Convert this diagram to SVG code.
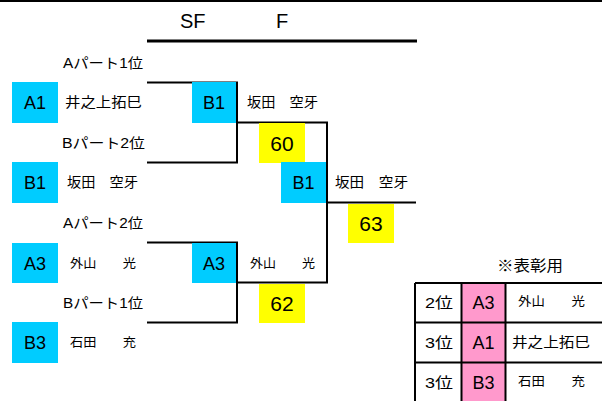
<svg xmlns="http://www.w3.org/2000/svg" width="602" height="401" viewBox="0 0 602 401">
<style>
text{font-family:"Liberation Sans","Noto Sans CJK JP",sans-serif;fill:#000}
.seed{fill:#00ccff}
.score{fill:#ffff00}
.pink{fill:#ff99cc}
.ln{fill:none;stroke:#000;stroke-width:2}
.big{font-size:18px;text-anchor:middle}
.sc{font-size:21px;text-anchor:middle}
.part{font-size:14px}
.nm{font-size:14px}
.nms{font-size:12.5px}
.hd{font-size:20px}
</style>
<rect x="0" y="0" width="602" height="401" fill="#fff"/>
<g id="header">
<rect x="0" y="0" width="602" height="2" fill="#000"/>
<text class="hd" x="180" y="28">SF</text>
<text class="hd" x="276" y="28">F</text>
<rect x="147" y="39.5" width="270" height="3" fill="#000"/>
</g>
<g id="connectors">
<path class="ln" d="M147 82.5H237V162.5H147"/>
<path class="ln" d="M147 242.5H237V322.5H147"/>
<path class="ln" d="M237 122.5H327V282.5H237"/>
<path class="ln" d="M327 202.5H416"/>
</g>
<g id="label-a1st"><text class="part" x="63" y="68" textLength="80" lengthAdjust="spacingAndGlyphs">Aパート1位</text></g>
<g id="label-b2nd"><text class="part" x="62" y="148" textLength="83" lengthAdjust="spacingAndGlyphs">Bパート2位</text></g>
<g id="label-a2nd"><text class="part" x="63" y="228" textLength="80" lengthAdjust="spacingAndGlyphs">Aパート2位</text></g>
<g id="label-b1st"><text class="part" x="63" y="308" textLength="80" lengthAdjust="spacingAndGlyphs">Bパート1位</text></g>
<g id="seed-A1">
<rect class="seed" x="12" y="82" width="46" height="41"/>
<text class="big" x="35" y="109">A1</text>
<text class="nm" x="65" y="107" textLength="77" lengthAdjust="spacingAndGlyphs">井之上拓巳</text>
</g>
<g id="seed-B1">
<rect class="seed" x="12" y="162" width="46" height="41"/>
<text class="big" x="35" y="189">B1</text>
<text class="nm" x="67" y="187" textLength="71" lengthAdjust="spacingAndGlyphs">坂田　空牙</text>
</g>
<g id="seed-A3">
<rect class="seed" x="12" y="243" width="46" height="40"/>
<text class="big" x="35" y="270">A3</text>
<text class="nms" x="70" y="268" textLength="66" lengthAdjust="spacingAndGlyphs">外山　　光</text>
</g>
<g id="seed-B3">
<rect class="seed" x="12" y="322" width="46" height="41"/>
<text class="big" x="35" y="349">B3</text>
<text class="nms" x="70" y="347" textLength="66" lengthAdjust="spacingAndGlyphs">石田　　充</text>
</g>
<g id="sf-B1">
<rect class="seed" x="192" y="82" width="44" height="41"/>
<text class="big" x="214" y="109">B1</text>
<text class="nm" x="247" y="107" textLength="71" lengthAdjust="spacingAndGlyphs">坂田　空牙</text>
</g>
<g id="sf-A3">
<rect class="seed" x="192" y="243" width="44" height="40"/>
<text class="big" x="214" y="270">A3</text>
<text class="nms" x="250" y="268" textLength="65" lengthAdjust="spacingAndGlyphs">外山　　光</text>
</g>
<g id="score-60">
<rect class="score" x="259" y="123" width="46" height="40"/>
<text class="sc" x="282" y="151">60</text>
</g>
<g id="score-62">
<rect class="score" x="259" y="284" width="46" height="39"/>
<text class="sc" x="282" y="311">62</text>
</g>
<g id="f-B1">
<rect class="seed" x="281" y="162" width="45" height="41"/>
<text class="big" x="303.5" y="189">B1</text>
<text class="nm" x="335" y="187" textLength="73" lengthAdjust="spacingAndGlyphs">坂田　空牙</text>
</g>
<g id="score-63">
<rect class="score" x="348" y="204" width="46" height="39"/>
<text class="sc" x="371" y="231">63</text>
</g>
<g id="award-table">
<text x="497" y="271" font-size="15" textLength="66" lengthAdjust="spacingAndGlyphs">※表彰用</text>
<rect class="pink" x="462" y="283" width="43" height="118"/>
<path class="ln" d="M415 283V401M461.5 283V401M505.5 283V401M415 283H602M415 322.5H602M415 362.5H602"/>
<text x="425" y="308" font-size="15" textLength="28" lengthAdjust="spacingAndGlyphs">2位</text>
<text x="425" y="348" font-size="15" textLength="28" lengthAdjust="spacingAndGlyphs">3位</text>
<text x="425" y="388" font-size="15" textLength="28" lengthAdjust="spacingAndGlyphs">3位</text>
<text class="big" x="483.5" y="309">A3</text>
<text class="big" x="483.5" y="349">A1</text>
<text class="big" x="483.5" y="389">B3</text>
<text class="nms" x="518" y="306" textLength="67" lengthAdjust="spacingAndGlyphs">外山　　光</text>
<text class="nm" x="512" y="347" textLength="78" lengthAdjust="spacingAndGlyphs">井之上拓巳</text>
<text class="nms" x="518" y="386" textLength="67" lengthAdjust="spacingAndGlyphs">石田　　充</text>
</g>
</svg>
